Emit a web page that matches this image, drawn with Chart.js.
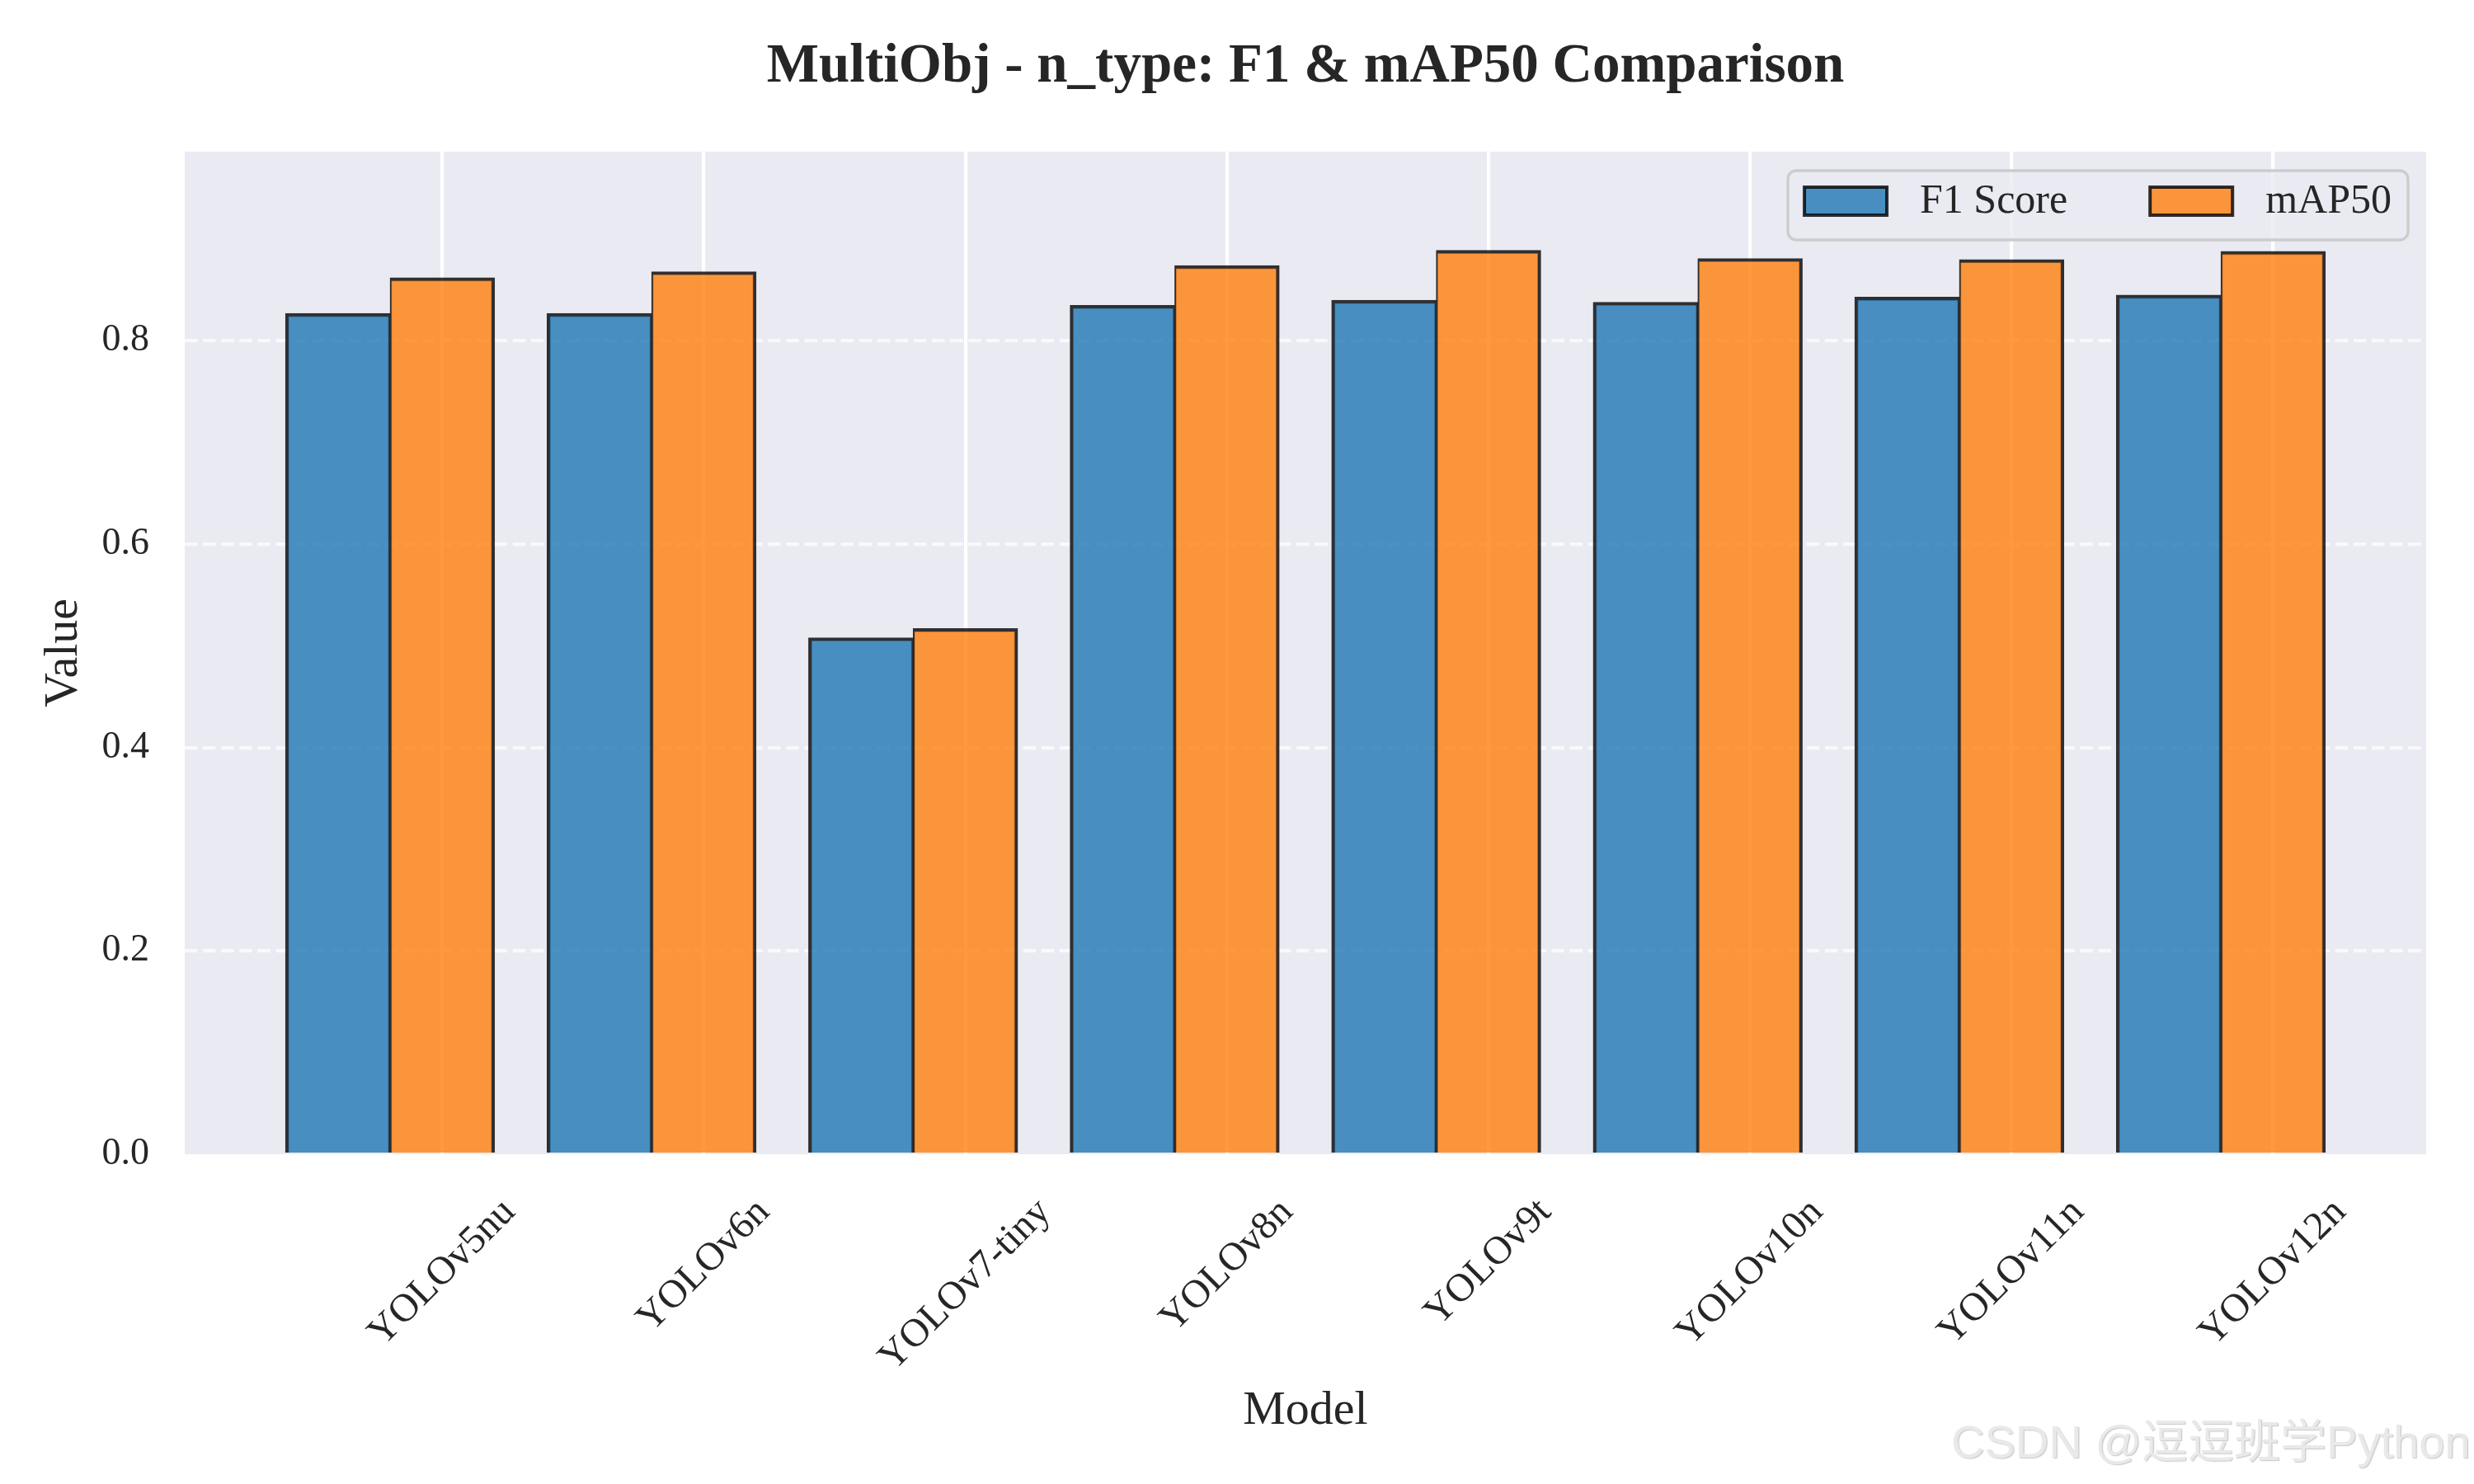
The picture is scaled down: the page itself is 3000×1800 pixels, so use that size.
<!DOCTYPE html>
<html><head><meta charset="utf-8">
<script src="https://cdn.jsdelivr.net/npm/chart.js@4.4.1/dist/chart.umd.min.js"></script>
<style>html,body{margin:0;padding:0;background:#fff;} #wrap{width:3000px;height:1800px;}</style>
</head><body><div id="wrap"><canvas id="c" width="3000" height="1800"></canvas></div>
<script>
const categories = ['YOLOv5nu','YOLOv6n','YOLOv7-tiny','YOLOv8n','YOLOv9t','YOLOv10n','YOLOv11n','YOLOv12n'];
const f1Scores = [0.827, 0.827, 0.508, 0.835, 0.840, 0.838, 0.843, 0.845];
const map50Scores = [0.862, 0.868, 0.517, 0.874, 0.889, 0.881, 0.880, 0.888];
const seriesNames = ['F1 Score', 'mAP50'];
const yTickValues = [0, 0.2, 0.4, 0.6, 0.8];

const TEXT = '#262626';
const SERIF = '"Liberation Serif", "Times New Roman", serif';

const bgPlugin = {
  id: 'plotBg',
  beforeDraw(chart) {
    const {ctx, chartArea: a} = chart;
    ctx.save();
    ctx.fillStyle = '#EAEAF2';
    ctx.fillRect(a.left, a.top, a.right - a.left, a.bottom - a.top);
    ctx.restore();
  }
};

const xLabelPlugin = {
  id: 'xLabels',
  afterDraw(chart) {
    const ctx = chart.ctx, xs = chart.scales.x, base = chart.chartArea.bottom;
    ctx.save();
    const FS = 48;
    ctx.font = FS + 'px ' + SERIF;
    ctx.fillStyle = TEXT;
    ctx.textAlign = 'center';
    ctx.textBaseline = 'middle';
    xs.ticks.forEach(t => {
      const idx = Math.round(t.value - 0.2);
      const label = categories[idx];
      const w = ctx.measureText(label).width;
      const cx = xs.getPixelForValue(t.value);
      const cy = base + 46 + (w + FS) / (2 * Math.SQRT2);
      ctx.save();
      ctx.translate(cx, cy);
      ctx.rotate(-Math.PI / 4);
      ctx.fillText(label, 0, 0);
      ctx.restore();
    });
    ctx.restore();
  }
};

const legendPlugin = {
  id: 'boxLegend',
  afterDatasetsDraw(chart) {
    const ctx = chart.ctx, a = chart.chartArea;
    const fs = 50, pad = 20, handle = 100, hpad = 40, colsp = 100, hh = 34;
    ctx.save();
    ctx.font = fs + 'px ' + SERIF;
    const items = chart.data.datasets.map(d => ({label: d.label, fill: d.backgroundColor, stroke: d.borderColor, w: ctx.measureText(d.label).width}));
    let width = pad * 2;
    items.forEach((it, i) => { width += handle + hpad + it.w; if (i > 0) width += colsp; });
    const right = a.right - 22, left = right - width, top = a.top + 23, height = 84;
    ctx.beginPath();
    ctx.roundRect(left, top, width, height, 10);
    ctx.fillStyle = 'rgba(234,234,242,0.8)';
    ctx.fill();
    ctx.lineWidth = 3.3;
    ctx.strokeStyle = '#cccccc';
    ctx.stroke();
    let x = left + pad;
    const cy = top + 37;
    items.forEach((it, i) => {
      if (i > 0) x += colsp;
      ctx.fillStyle = it.fill;
      ctx.fillRect(x, cy - hh / 2, handle, hh);
      ctx.strokeStyle = it.stroke;
      ctx.lineWidth = 4;
      ctx.strokeRect(x, cy - hh / 2, handle, hh);
      x += handle + hpad;
      ctx.fillStyle = TEXT;
      ctx.textAlign = 'left';
      ctx.textBaseline = 'middle';
      ctx.fillText(it.label, x, cy + 1);
      x += it.w;
    });
    ctx.restore();
  }
};

const watermarkPlugin = {
  id: 'watermark',
  afterDraw(chart) {
    const ctx = chart.ctx;
    ctx.save();
    ctx.font = '56px "Liberation Sans", "Noto Sans CJK SC", sans-serif';
    ctx.textAlign = 'left';
    ctx.textBaseline = 'alphabetic';
    ctx.shadowColor = 'rgba(0,0,0,0.22)';
    ctx.shadowOffsetX = 1.2;
    ctx.shadowOffsetY = 1.2;
    ctx.shadowBlur = 1.2;
    ctx.fillStyle = '#e9e9e9';
    ctx.fillText('CSDN @逗逗班学Python', 2366, 1768);
    ctx.restore();
  }
};

new Chart(document.getElementById('c'), {
  type: 'bar',
  data: {
    datasets: [
      {
        label: seriesNames[0],
        data: categories.map((c, i) => ({x: i - 0.2, y: f1Scores[i]})),
        backgroundColor: 'rgba(31,119,180,0.8)',
        borderColor: 'rgba(0,0,0,0.8)',
        borderWidth: {top: 4, left: 4, right: 2, bottom: 0},
        grouped: false, barPercentage: 1, categoryPercentage: 1
      },
      {
        label: seriesNames[1],
        data: categories.map((c, i) => ({x: i + 0.2, y: map50Scores[i]})),
        backgroundColor: 'rgba(255,127,14,0.8)',
        borderColor: 'rgba(0,0,0,0.8)',
        borderWidth: {top: 4, left: 2, right: 4, bottom: 0},
        grouped: false, barPercentage: 1, categoryPercentage: 1
      }
    ]
  },
  options: {
    responsive: false,
    animation: false,
    devicePixelRatio: 1,
    layout: {padding: {left: 0, right: 58, top: 0, bottom: 0}},
    plugins: {
      legend: {display: false},
      tooltip: {enabled: false},
      title: {
        display: true,
        text: 'MultiObj - n_type: F1 & mAP50 Comparison',
        font: {family: SERIF, size: 67, weight: 'bold', lineHeight: 1.2},
        color: TEXT,
        padding: {top: 41, bottom: 62.6},
        fullSize: false
      }
    },
    scales: {
      x: {
        type: 'linear',
        min: -0.785,
        max: 7.785,
        offset: false,
        afterBuildTicks: s => { s.ticks = categories.map((_, i) => ({value: i + 0.2})); },
        ticks: {display: false},
        grid: {color: '#ffffff', lineWidth: 4.17, drawTicks: false, offset: false},
        border: {display: false},
        title: {display: true, text: 'Model', font: {family: SERIF, size: 58, lineHeight: 1.2}, color: TEXT, padding: {top: 0, bottom: 53}},
        afterFit: s => { s.height = 400; }
      },
      y: {
        min: 0,
        max: 0.986,
        afterBuildTicks: s => { s.ticks = yTickValues.map(v => ({value: v})); },
        ticks: {callback: v => Number(v).toFixed(1), font: {family: SERIF, size: 46}, color: TEXT, padding: 43},
        grid: {
          color: ctx => (ctx.tick && ctx.tick.value === 0) ? 'rgba(255,255,255,0)' : 'rgba(255,255,255,0.7)',
          lineWidth: 4.17, drawTicks: false
        },
        border: {display: false, dash: [15.4, 6.7]},
        title: {display: true, text: 'Value', font: {family: SERIF, size: 58, lineHeight: 1.2}, color: TEXT, padding: {top: 43, bottom: 0}},
        afterFit: s => { s.width = 224; }
      }
    }
  },
  plugins: [bgPlugin, legendPlugin, xLabelPlugin, watermarkPlugin]
});
</script>
</body></html>
